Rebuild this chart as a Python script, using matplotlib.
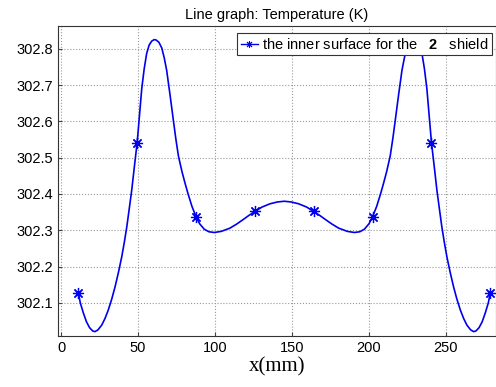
import numpy as np
import matplotlib
matplotlib.use("Agg")
import matplotlib.pyplot as plt
from matplotlib.lines import Line2D

# curve (x in mm, temperature in K)
x_curve = [11.2, 12.5, 14.5, 16.5, 18.5, 20.5, 22.0, 24.0, 26.4, 28.5, 30.7, 33.0, 35.1, 37.3, 39.4,
           41.0, 42.7, 44.3, 45.9, 47.6, 49.4, 51.0, 52.4, 54.0, 55.6, 57.2, 58.9, 60.5, 61.7, 63.5,
           65.4, 67.0, 68.6, 70.8, 72.9, 74.5, 76.2, 78.5, 80.5, 82.5, 85.0, 87.6, 90.0, 93.0, 96.0,
           99.5, 104.0, 109.7, 114.0, 118.4, 122.0, 126.0, 130.5, 135.7, 140.5, 145.0,
           149.5, 154.3, 159.5, 164.0, 168.0, 171.6, 176.0, 180.3, 186.0, 190.5, 194.0, 197.0, 200.0,
           202.4, 205.0, 207.5, 209.5, 211.5, 213.8, 215.5, 217.1, 219.2, 221.4, 223.0, 224.6, 226.5,
           228.3, 229.5, 231.1, 232.8, 234.4, 236.0, 237.6, 239.0, 240.6, 242.4, 244.1, 245.7, 247.3,
           249.0, 250.6, 252.7, 254.9, 257.0, 259.3, 261.5, 263.6, 266.0, 268.0, 269.5, 271.5, 273.5,
           275.5, 277.5, 278.8]
y_curve = [302.128, 302.100, 302.072, 302.048, 302.032, 302.023, 302.021, 302.026, 302.039, 302.057,
           302.081, 302.112, 302.145, 302.185, 302.227, 302.265, 302.310, 302.360, 302.411, 302.475,
           302.541, 302.620, 302.690, 302.745, 302.787, 302.810, 302.821, 302.825, 302.824, 302.818,
           302.802, 302.775, 302.740, 302.672, 302.604, 302.553, 302.505, 302.462, 302.430, 302.400,
           302.366, 302.338, 302.318, 302.303, 302.296, 302.294, 302.297, 302.306, 302.317, 302.330,
           302.341, 302.352, 302.364, 302.373, 302.378, 302.380,
           302.378, 302.373, 302.364, 302.352, 302.341, 302.330, 302.317, 302.306, 302.297, 302.294,
           302.296, 302.303, 302.318, 302.338, 302.366, 302.400, 302.430, 302.462, 302.505, 302.553,
           302.604, 302.672, 302.740, 302.775, 302.802, 302.818, 302.824, 302.825, 302.821, 302.810,
           302.787, 302.745, 302.690, 302.620, 302.541, 302.475, 302.411, 302.360, 302.310, 302.265,
           302.227, 302.185, 302.145, 302.112, 302.081, 302.057, 302.039, 302.026, 302.021, 302.023,
           302.032, 302.048, 302.072, 302.100, 302.128]

# marked points
x_mark = [11.2, 49.4, 87.6, 126.0, 164.0, 202.4, 240.6, 278.8]
y_mark = [302.128, 302.541, 302.338, 302.352, 302.352, 302.338, 302.541, 302.128]

x_ticks = [0, 50, 100, 150, 200, 250]
y_ticks = [302.1, 302.2, 302.3, 302.4, 302.5, 302.6, 302.7, 302.8]

plt.rcParams['font.family'] = ['Liberation Sans', 'DejaVu Sans']
plt.rcParams['mathtext.fontset'] = 'custom'
plt.rcParams['mathtext.bf'] = 'Liberation Sans:bold'

blue = '#0000ee'
star = (8, 2, 0)  # matlab style asterisk

fig = plt.figure(figsize=(4.96, 3.87), dpi=100)
ax = fig.add_axes([58/496, 51/387, 438/496, 310/387])

ax.plot(x_curve, y_curve, color=blue, linewidth=1.2)
ax.plot(x_mark, y_mark, linestyle='none', marker=star, color=blue, markersize=8, markeredgewidth=0.9)

ax.set_xlim(-2, 282.5)
ax.set_ylim(302.009, 302.8625)
ax.set_xticks(x_ticks)
ax.set_yticks(y_ticks)
ax.set_yticklabels([str(v) for v in y_ticks])
ax.tick_params(labelsize=10.5, direction='in', length=3, color='#444444')
ax.grid(True, linestyle=':', color='#999999', linewidth=0.8)
for s in ax.spines.values():
    s.set_color('#333333')

ax.set_title('Line graph: Temperature (K)', fontsize=10.5, pad=5)
ax.set_xlabel('x(mm)', fontsize=15, family='Liberation Serif', labelpad=2)

handle = Line2D([], [], color=blue, marker=star, markersize=5, markeredgewidth=0.7, linewidth=1.0)
leg = ax.legend([handle], [r'the inner surface for the   $\mathbf{2}$   shield'],
                loc='upper right', bbox_to_anchor=(0.990, 0.977), borderaxespad=0,
                fontsize=10.5, fancybox=False, framealpha=1, edgecolor='#333333',
                handlelength=1.2, handletextpad=0.25, borderpad=0.25)
leg.get_frame().set_linewidth(0.8)

plt.savefig('out.png', dpi=100)
